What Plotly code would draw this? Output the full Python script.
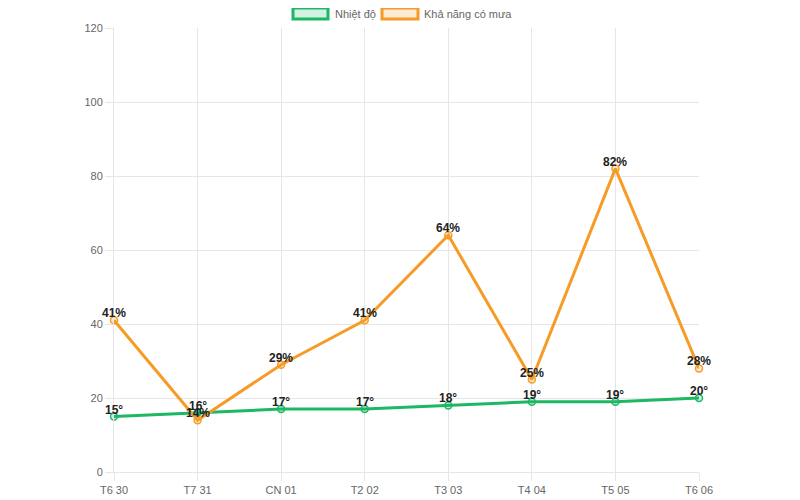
import plotly.graph_objects as go

days = ["T6 30", "T7 31", "CN 01", "T2 02", "T3 03", "T4 04", "T5 05", "T6 06"]
temperature = [15, 16, 17, 17, 18, 19, 19, 20]
rain_chance = [41, 14, 29, 41, 64, 25, 82, 28]

green = "rgb(30,183,100)"
green_fill = "rgba(30,183,100,0.2)"
orange = "rgb(246,156,38)"
orange_fill = "rgba(246,156,38,0.2)"

OFF = 8  # page body margin
W, H = 800, 500
# desired plot area in screen pixels
SL, SR, ST, SB = 114, 699, 28, 474
L = SL - OFF
T = ST - OFF
R = W - (SR - OFF)
B = H - (SB - OFF)
pw, ph = W - L - R, H - T - B

def px(x):
    return (x - OFF - L) / pw

def py(y):
    return (H - B - (y - OFF)) / ph

xs = list(range(len(days)))
FONT = "Liberation Sans, Arial, Helvetica"

fig = go.Figure()
fig.add_trace(go.Scatter(
    x=xs, y=temperature, mode="lines+markers", name="Nhiệt độ",
    line=dict(color=green, width=3),
    marker=dict(size=7, color=green_fill, line=dict(color=green, width=1.5)),
    cliponaxis=False,
))
fig.add_trace(go.Scatter(
    x=xs, y=rain_chance, mode="lines+markers", name="Khả năng có mưa",
    line=dict(color=orange, width=3),
    marker=dict(size=7, color=orange_fill, line=dict(color=orange, width=1.5)),
    cliponaxis=False,
))

annotations = []
for x, v in zip(xs, temperature):
    annotations.append(dict(x=x, y=v, text=f"<b>{v}°</b>", showarrow=False, yshift=7,
                            font=dict(family=FONT, size=12, color="#222"),
                            xref="x", yref="y"))
for x, v in zip(xs, rain_chance):
    annotations.append(dict(x=x, y=v, text=f"<b>{v}%</b>", showarrow=False, yshift=7,
                            font=dict(family=FONT, size=12, color="#222"),
                            xref="x", yref="y"))

# legend drawn manually (Chart.js style)
legend_items = [
    ("Nhiệt độ", green, green_fill, 293, 328, 333),
    ("Khả năng có mưa", orange, orange_fill, 382, 418, 422),
]
shapes = []
for label, col, fill, x0, x1, tx in legend_items:
    shapes.append(dict(type="rect", xref="paper", yref="paper",
                       x0=px(x0), x1=px(x1), y0=py(19), y1=py(8),
                       line=dict(color=col, width=3), fillcolor=fill))
    annotations.append(dict(xref="paper", yref="paper", x=px(tx), y=py(13.5),
                            xanchor="left", yanchor="middle", text=label, showarrow=False,
                            font=dict(family=FONT, size=11, color="#666")))

fig.update_layout(
    width=W, height=H,
    margin=dict(l=L, r=R, t=T, b=B),
    plot_bgcolor="white", paper_bgcolor="white",
    showlegend=False,
    annotations=annotations,
    shapes=shapes,
    font=dict(family=FONT, size=11, color="#666"),
    xaxis=dict(
        range=[0, len(days) - 1], tickvals=xs, ticktext=days,
        showgrid=True, gridcolor="#e6e6e6", gridwidth=1,
        ticks="outside", ticklen=8, tickcolor="#e6e6e6",
        showline=True, linecolor="#e6e6e6", zeroline=False,
        tickfont=dict(size=11, color="#666"),
    ),
    yaxis=dict(
        range=[0, 120], dtick=20,
        showgrid=True, gridcolor="#e6e6e6", gridwidth=1,
        ticks="outside", ticklen=8, tickcolor="#e6e6e6",
        showline=True, linecolor="#e6e6e6", zeroline=False,
        tickfont=dict(size=11, color="#666"),
    ),
)

fig.write_html("out.html")
